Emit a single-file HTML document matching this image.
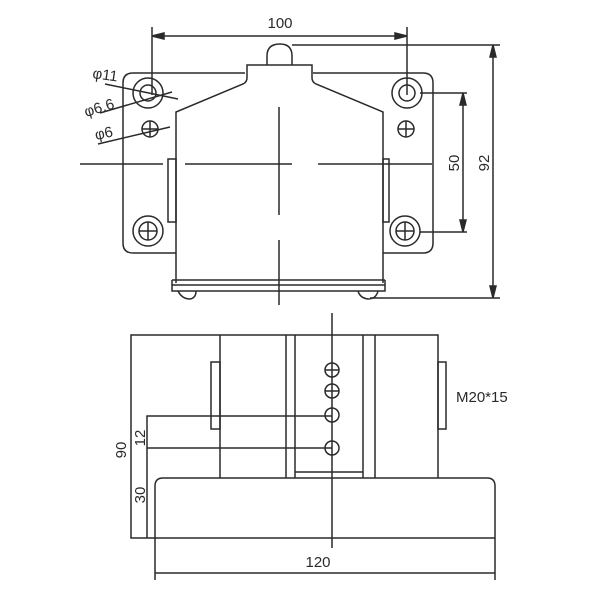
<!DOCTYPE html>
<html><head><style>body{margin:0;background:#fff}svg{display:block}</style></head><body>
<svg width="600" height="600" viewBox="0 0 600 600" xmlns="http://www.w3.org/2000/svg" font-family="Liberation Sans, sans-serif" fill="none" stroke="#2a2a2a" stroke-width="1.5">
<!-- TOP VIEW -->
<line x1="152" y1="27" x2="152" y2="95"/>
<line x1="407" y1="27" x2="407" y2="95"/>
<line x1="152" y1="36" x2="407" y2="36"/>
<path d="M152 36 l12 -3 v6z M407 36 l-12 -3 v6z" fill="#2a2a2a"/>
<text x="280" y="28" font-size="15" fill="#2a2a2a" stroke="none" text-anchor="middle">100</text>
<path d="M176 253 H133 Q123 253 123 243 V83 Q123 73 133 73 H245"/>
<path d="M313 73 H423 Q433 73 433 83 V243 Q433 253 423 253 H383"/>
<path d="M176 283 V112 L243 84 Q247 82 247 78 V65 H312 V78 Q312 82 316 84 L383 112 V283"/>
<path d="M267 65 V56 Q267 44 280 44 Q292 44 292 56 V65"/>
<path d="M172 280 H385 M172 285 H385 M172 280 V291 H385 V280"/>
<path d="M178 291 Q182 299 190 299 Q196 298 196 291 M358 291 Q360 298 368 299 Q376 299 378 291"/>
<rect x="168" y="159" width="8" height="63"/>
<rect x="383" y="159" width="6" height="63"/>
<circle cx="148" cy="93" r="15"/><circle cx="148" cy="93" r="8"/>
<circle cx="407" cy="93" r="15"/><circle cx="407" cy="93" r="8"/>
<circle cx="150" cy="129" r="8"/><path d="M142 129h16M150 121v16"/>
<circle cx="406" cy="129" r="8"/><path d="M398 129h16M406 121v16"/>
<circle cx="148" cy="231" r="15"/><circle cx="148" cy="231" r="9"/><path d="M139 231h18M148 222v18"/>
<circle cx="405" cy="231" r="15"/><circle cx="405" cy="231" r="9"/><path d="M396 231h18M405 222v18"/>
<path d="M80 164 H163 M185 164 H292 M318 164 H432"/>
<path d="M279 107 V215 M279 240 V305"/>
<path d="M105 84 L178 99 M100 113 L172 92 M98 144 L170 127"/>
<g fill="#2a2a2a" stroke="none" font-size="15">
<text x="92" y="78" transform="rotate(8 92 78)">φ11</text>
<text x="86" y="117" transform="rotate(-17 86 117)">φ6.6</text>
<text x="96" y="140" transform="rotate(-12 96 140)">φ6</text>
</g>
<path d="M420 93 H467 M420 232 H467 M463 93 V232"/>
<path d="M463 93 l-3 12 h6z M463 232 l-3 -12 h6z" fill="#2a2a2a"/>
<text x="459" y="163" font-size="15" fill="#2a2a2a" stroke="none" text-anchor="middle" transform="rotate(-90 459 163)">50</text>
<path d="M292 45 H500 M370 298 H500 M493 45 V298"/>
<path d="M493 45 l-3 12 h6z M493 298 l-3 -12 h6z" fill="#2a2a2a"/>
<text x="489" y="163" font-size="15" fill="#2a2a2a" stroke="none" text-anchor="middle" transform="rotate(-90 489 163)">92</text>

<!-- BOTTOM VIEW -->
<path d="M438 478 V335 H131 V538 H495"/>
<path d="M220 335 V478 M286 335 V478 M295 335 V478 M363 335 V478 M375 335 V478"/>
<path d="M295 472 H363"/>
<rect x="211" y="362" width="9" height="67"/>
<rect x="438" y="362" width="8" height="67"/>
<path d="M155 580 V486 Q155 478 163 478 H487 Q495 478 495 486 V580"/>
<path d="M332 313 V548"/>
<circle cx="332" cy="370" r="7"/><path d="M325 370h14"/>
<circle cx="332" cy="391" r="7"/><path d="M325 391h14"/>
<circle cx="332" cy="415" r="7"/>
<circle cx="332" cy="448" r="7"/>
<path d="M147 538 V416 H332 M147 448 H332"/>
<path d="M155 573 H495"/>
<g fill="#2a2a2a" stroke="none" font-size="15">
<text x="456" y="402">M20*15</text>
<text x="318" y="567" text-anchor="middle">120</text>
<text x="126" y="450" text-anchor="middle" transform="rotate(-90 126 450)">90</text>
<text x="145" y="438" text-anchor="middle" transform="rotate(-90 145 438)">12</text>
<text x="145" y="495" text-anchor="middle" transform="rotate(-90 145 495)">30</text>
</g>
</svg>
</body></html>
